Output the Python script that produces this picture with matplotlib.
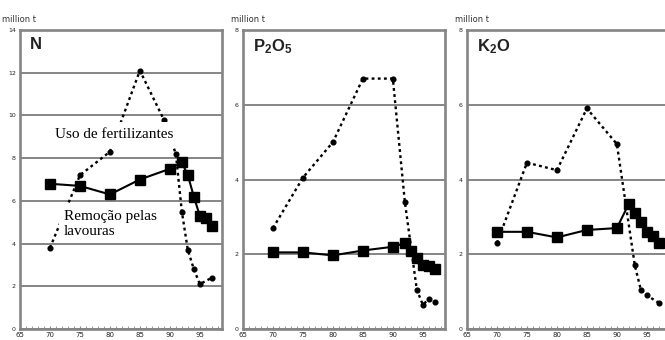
import matplotlib
matplotlib.use("Agg")
import matplotlib.pyplot as plt
from matplotlib.ticker import MultipleLocator

# ==========================================
# data (million t)
# ==========================================

use_years_N = [1970, 1975, 1980, 1985, 1989, 1991, 1992, 1993, 1994, 1995, 1997]
use_N = [3.8, 7.2, 8.3, 12.1, 9.8, 8.2, 5.5, 3.7, 2.8, 2.1, 2.4]

use_years_P = [1970, 1975, 1980, 1985, 1990, 1992, 1994, 1995, 1996, 1997]
use_P = [2.7, 4.05, 5.0, 6.7, 6.7, 3.4, 1.05, 0.65, 0.8, 0.72]

use_years_K = [1970, 1975, 1980, 1985, 1990, 1993, 1994, 1995, 1997]
use_K = [2.3, 4.45, 4.25, 5.9, 4.95, 1.7, 1.05, 0.9, 0.7]

removal_years = [1970, 1975, 1980, 1985, 1990, 1992, 1993, 1994, 1995, 1996, 1997]
removal_N = [6.8, 6.7, 6.3, 7.0, 7.5, 7.8, 7.2, 6.2, 5.3, 5.2, 4.8]
removal_P = [2.05, 2.05, 1.97, 2.1, 2.2, 2.3, 2.1, 1.9, 1.7, 1.68, 1.6]
removal_K = [2.6, 2.6, 2.45, 2.65, 2.7, 3.35, 3.1, 2.85, 2.6, 2.5, 2.3]

x_ticks = [1965, 1970, 1975, 1980, 1985, 1990, 1995]
x_labels = ['65', '70', '75', '80', '85', '90', '95']

panel_titles = ['N', r'P$_2$O$_5$', r'K$_2$O']
y_tops = [14, 8, 8]
unit_label = 'million t'
label_use = 'Uso de fertilizantes'
label_removal = 'Remoção pelas\nlavouras'

W, H = 665, 340
GRAY = '#858585'

# subscripts in the titles use the same bold sans as the letters
plt.rcParams['mathtext.fontset'] = 'custom'
plt.rcParams['mathtext.rm'] = 'Liberation Sans:bold'
plt.rcParams['mathtext.default'] = 'rm'


def draw_panel(ax, years_use, use, removal, title, ytop):
    ax.plot(years_use, use, color='black', linestyle=(0, (1.2, 1.4)), lw=1.7,
            marker='o', markersize=3.4, zorder=3)
    ax.plot(removal_years, removal, color='black', linestyle='-', lw=1.5,
            marker='s', markersize=7, zorder=4)

    ax.set_xlim(1965, 1998.7)
    ax.set_ylim(0, ytop)
    ax.set_xticks(x_ticks)
    ax.set_xticklabels(x_labels)
    ax.xaxis.set_minor_locator(MultipleLocator(1))
    ax.yaxis.set_major_locator(MultipleLocator(2))
    ax.tick_params(axis='x', which='both', direction='in', length=2,
                   color=GRAY, labelsize=5, pad=2, labelcolor='#222222')
    ax.tick_params(axis='y', length=0, labelsize=4.5, pad=3,
                   labelcolor='#222222')

    ax.grid(True, axis='y', color=GRAY, lw=1.4)
    ax.set_axisbelow(True)
    for s in ax.spines.values():
        s.set_color(GRAY)
        s.set_linewidth(1.9)

    ax.text(0.05, 0.975, title, transform=ax.transAxes, ha='left', va='top',
            fontsize=12, fontweight='bold', family='Liberation Sans',
            color='#222222')


def main():
    fig = plt.figure(figsize=(W / 100, H / 100), dpi=100)
    lefts = [20, 243, 467]
    top, bottom, width = 30, 329, 202

    data = [(use_years_N, use_N, removal_N),
            (use_years_P, use_P, removal_P),
            (use_years_K, use_K, removal_K)]

    for i, left in enumerate(lefts):
        ax = fig.add_axes([left / W, 1 - bottom / H, width / W, (bottom - top) / H])
        yu, u, r = data[i]
        draw_panel(ax, yu, u, r, panel_titles[i], y_tops[i])

        tx = 2 if i == 0 else left - 12
        fig.text(tx / W, 1 - 20 / H, unit_label, fontsize=6, color='#333333',
                 ha='left', va='center')

    fig.text(114 / W, 1 - 135 / H, label_use, fontsize=11,
             family='Liberation Serif', ha='center', va='center',
             bbox=dict(facecolor='white', edgecolor='none',
                       boxstyle='square,pad=0.45'),
             zorder=10)
    fig.text(64 / W, 1 - 224 / H, label_removal, fontsize=11,
             family='Liberation Serif', ha='left', va='center',
             linespacing=1.15, bbox=dict(facecolor='white', edgecolor='none',
                                         boxstyle='square,pad=0.35'),
             zorder=10)

    fig.savefig('out.png', dpi=100)


if __name__ == "__main__":
    main()
